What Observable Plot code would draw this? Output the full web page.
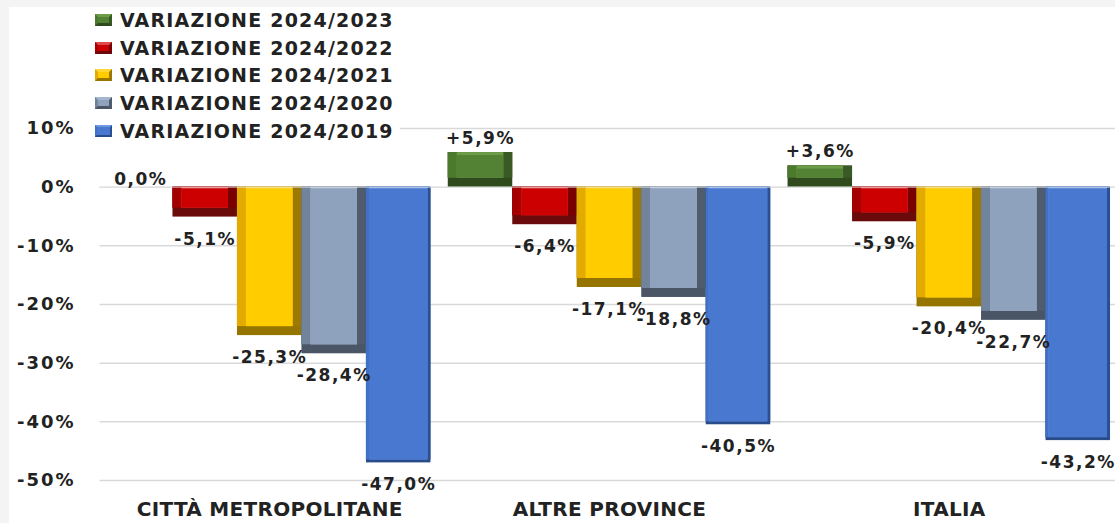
<!DOCTYPE html>
<html><head><meta charset="utf-8">
<script src="https://cdn.jsdelivr.net/npm/d3@7"></script>
<script src="https://cdn.jsdelivr.net/npm/@observablehq/plot@0.6"></script>
<style>
html,body{margin:0;padding:0;background:#f4f4f4;width:1115px;height:523px;overflow:hidden}
#panel{position:absolute;left:9px;top:7px;width:1106px;height:516px;background:#fff;overflow:hidden}
#legend{position:absolute;left:82px;top:-1px;background:#fff;padding:0 6px 0 4px;font-family:"DejaVu Sans",sans-serif;font-weight:bold;font-size:19px;color:#222;letter-spacing:1.2px;z-index:2}
.row{height:27.75px;display:flex;align-items:center;white-space:nowrap}
.sw{width:17px;height:12px;margin-right:8px;box-sizing:border-box;border-style:solid;border-width:3px 3px 3px 3px}
#chart svg{max-width:none !important}
#chart svg text{letter-spacing:1.5px}
#chart g[aria-label="y-axis tick label"] text{letter-spacing:2px}
#chart g[aria-label="fx-axis tick label"] text{letter-spacing:0.3px}
</style></head>
<body>
<div id="panel"><div id="chart"></div><div id="legend"></div></div>
<script>
const groups = ["CITTÀ METROPOLITANE", "ALTRE PROVINCE", "ITALIA"];
const seriesNames = ["VARIAZIONE 2024/2023", "VARIAZIONE 2024/2022", "VARIAZIONE 2024/2021", "VARIAZIONE 2024/2020", "VARIAZIONE 2024/2019"];
const var2023 = [0.0, 5.9, 3.6];
const var2022 = [-5.1, -6.4, -5.9];
const var2021 = [-25.3, -17.1, -20.4];
const var2020 = [-28.4, -18.8, -22.7];
const var2019 = [-47.0, -40.5, -43.2];
const yTicks = [10, 0, -10, -20, -30, -40, -50];

const seriesValues = [var2023, var2022, var2021, var2020, var2019];
const palettes = [
  {face:"#548235", top:"#6c9c48", left:"#4b7a2d", right:"#395a24", bottom:"#2f4a1d", b:9, t:3},
  {face:"#cc0000", top:"#dd4a4a", left:"#a50000", right:"#780000", bottom:"#6b0a0a", b:9, t:2},
  {face:"#ffcc00", top:"#ffd633", left:"#e3aa00", right:"#9e7900", bottom:"#967400", b:9, t:2},
  {face:"#8ea2bd", top:"#a5b6cc", left:"#72839c", right:"#505c6d", bottom:"#4a5566", b:9, t:2},
  {face:"#4878cf", top:"#6f98e2", left:"#4170c4", right:"#2c4f92", bottom:"#2a4b8a", b:3, t:2}
];

const data = [];
seriesNames.forEach((s, i) => groups.forEach((g, j) => data.push({group: g, series: s, value: seriesValues[i][j]})));

const fmt = v => (v > 0 ? "+" : "") + v.toFixed(1).replace(".", ",") + "%";

function layers(s, pal) {
  const d = data.filter(r => r.series === s && r.value !== 0);
  const base = {fx: "group", x: "series", y: "value"};
  const b = pal.b, t = pal.t;
  return [
    Plot.barY(d, {...base, fill: pal.bottom}),
    Plot.barY(d, {...base, fill: pal.right, insetBottom: b}),
    Plot.barY(d, {...base, fill: pal.left, insetBottom: b, insetRight: b}),
    Plot.barY(d, {...base, fill: pal.top, insetBottom: b, insetRight: b, insetLeft: b}),
    Plot.barY(d, {...base, fill: pal.face, insetBottom: b, insetRight: b, insetLeft: b, insetTop: t})
  ];
}

const W = 1109, ML = 91, MR = 0;
const padIn = 0.051, padOut = 0.0235;
const step = (W - ML - MR) / (groups.length - padIn + 2 * padOut);
const half = step * padIn / 2 + 0.5;

const labelFont = 17;
const chart = Plot.plot({
  width: W,
  height: 516,
  marginLeft: ML,
  marginRight: MR,
  marginTop: 121,
  marginBottom: 43,
  style: {fontFamily: "'DejaVu Sans', sans-serif", fontWeight: "bold", color: "#222", background: "transparent", overflow: "visible", maxWidth: "none"},
  fx: {domain: groups, paddingInner: padIn, paddingOuter: padOut, round: false, label: null},
  x: {domain: seriesNames, padding: 0, round: false, axis: null},
  y: {domain: [-50, 10], label: null},
  marks: [
    Plot.ruleY(yTicks, {y: d => d, stroke: "#d9d9d9", strokeWidth: 1.5, insetLeft: -(step * padOut + 0.5), insetRight: -half}),
    ...seriesNames.flatMap((s, i) => layers(s, palettes[i])),
    Plot.ruleY([0], {stroke: "#e6e6e6", strokeWidth: 1, strokeOpacity: 0.8, insetLeft: -half, insetRight: -half}),
    Plot.text(data.filter(d => d.value < 0), {fx: "group", x: "series", y: "value", text: d => fmt(d.value), dy: 22, fontSize: labelFont, fill: "#222"}),
    Plot.text(data.filter(d => d.value > 0), {fx: "group", x: "series", y: "value", text: d => fmt(d.value), dy: -14, fontSize: labelFont, fill: "#222"}),
    Plot.text(data.filter(d => d.value === 0), {fx: "group", x: "series", y: "value", text: d => fmt(d.value), dy: -8, fontSize: labelFont, fill: "#222"}),
    Plot.axisY(yTicks, {tickSize: 0, tickPadding: 33, tickFormat: d => d + "%", fontSize: 18, label: null}),
    Plot.axisFx({anchor: "bottom", tickSize: 0, tickPadding: 21, fontSize: 20, label: null})
  ]
});
document.getElementById("chart").appendChild(chart);

const legend = document.getElementById("legend");
seriesNames.forEach((s, i) => {
  const p = palettes[i];
  const row = document.createElement("div");
  row.className = "row";
  const sw = document.createElement("span");
  sw.className = "sw";
  sw.style.background = p.face;
  sw.style.borderColor = `${p.top} ${p.right} ${p.bottom} ${p.left}`;
  if (i === 4) sw.style.borderWidth = "2px";
  const tx = document.createElement("span");
  tx.textContent = s;
  row.appendChild(sw);
  row.appendChild(tx);
  legend.appendChild(row);
});
</script>
</body></html>
